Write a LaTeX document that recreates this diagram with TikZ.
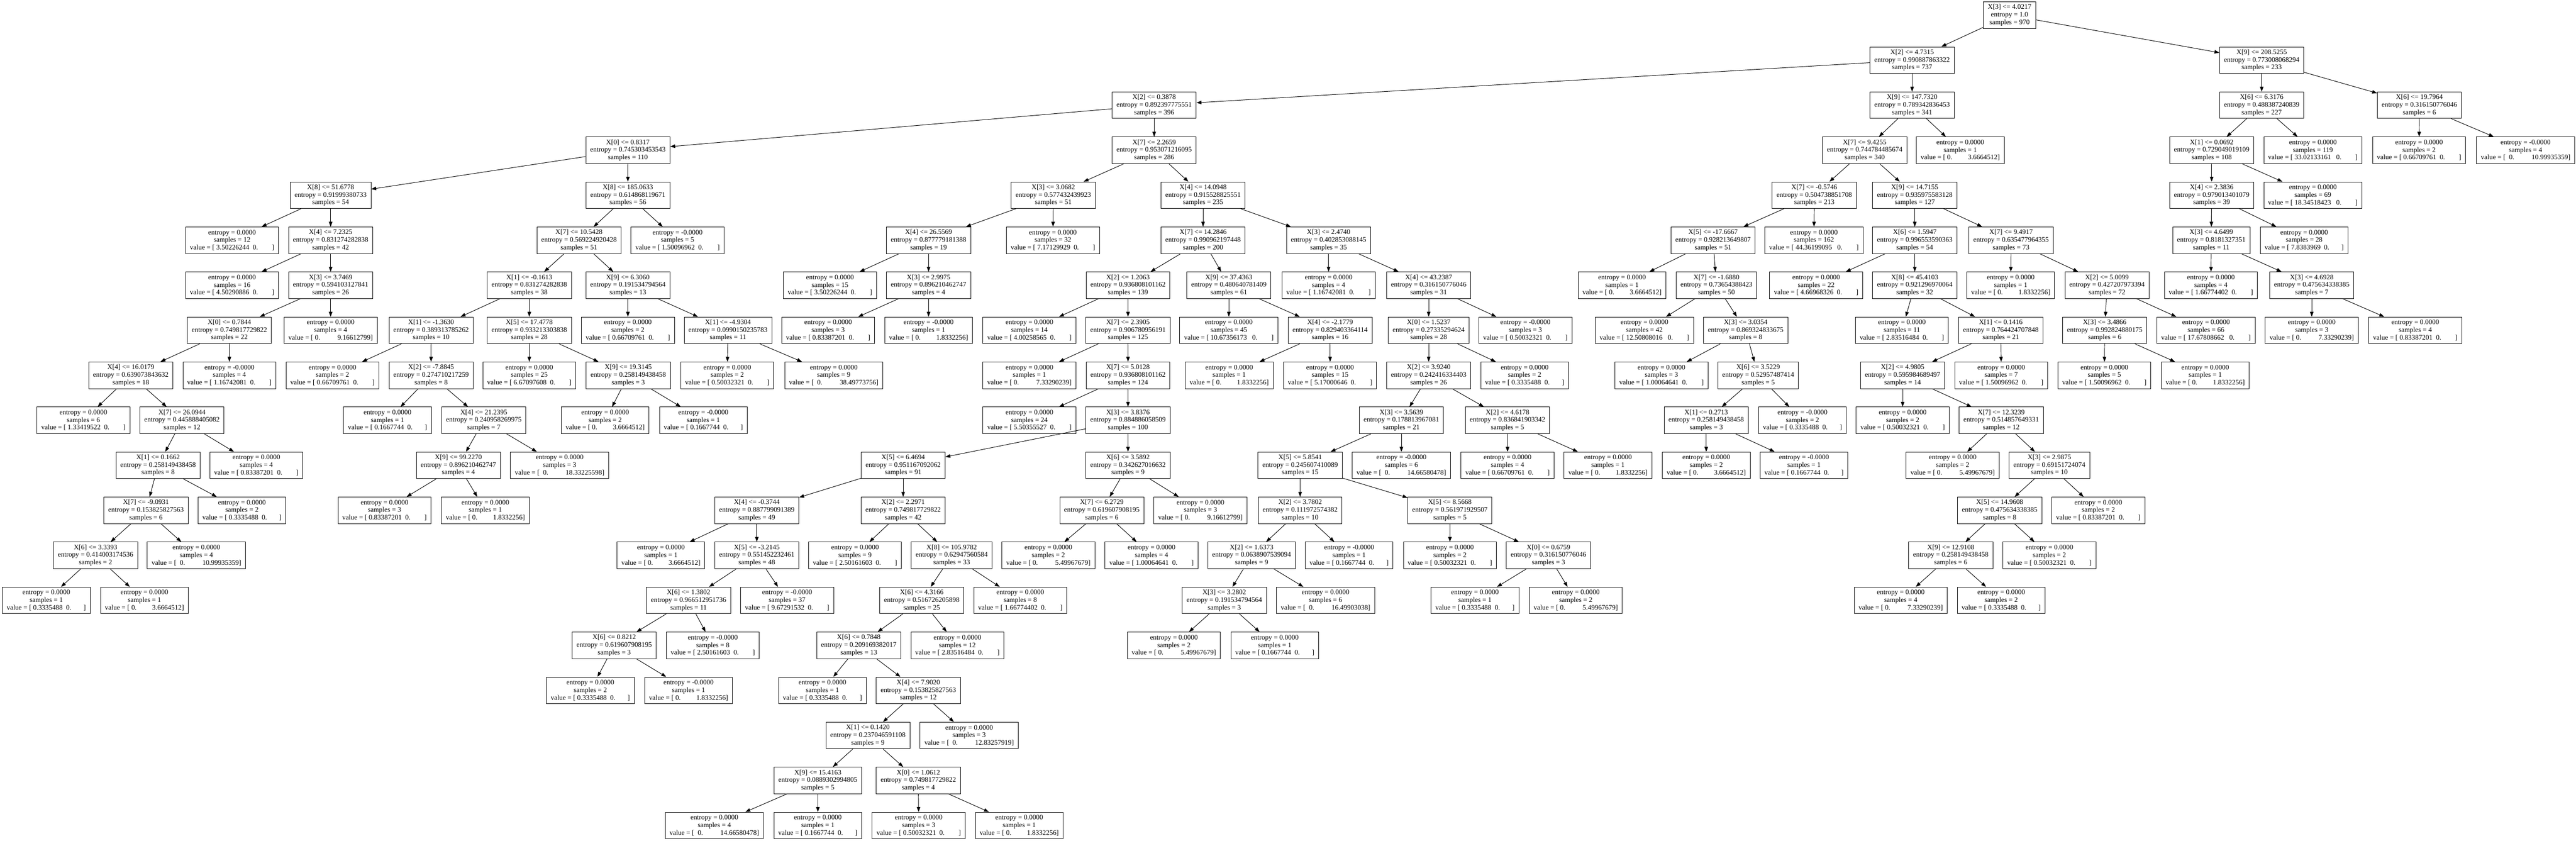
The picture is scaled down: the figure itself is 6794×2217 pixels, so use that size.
\documentclass[tikz,border=0pt]{standalone}
\usepackage{fontspec}
\setmainfont{Liberation Serif}
\usetikzlibrary{arrows.meta}
\newcommand\gp[1]{\hspace*{#1\fontdimen2\font}}
\newcommand\Sn[4]{X[#1] <= #2\\entropy = #3\\samples = #4}
\newcommand\Lf[3]{entropy = #1\\samples = #2\\value = [#3]}
\newcommand\Nd[4]{\node[tbox] (#1) at (#2,{40+118.7*(#3-1)}) {#4};}
\tikzset{
  tbox/.style={draw=black, line width=1.3pt, rectangle, align=center,
    inner xsep=11.5pt, inner ysep=0pt, minimum height=70pt,
    font=\fontsize{18.3pt}{20pt}\selectfont},
  edge/.style={draw=black, line width=1.3pt, -{Triangle[length=13pt,width=9.3pt]}}
}
\begin{document}
\begin{tikzpicture}[x=1pt,y=-1pt]
\fill[white] (0,0) rectangle (6794,2217);
\useasboundingbox (0,0) rectangle (6794,2217);
% L1-L4
\Nd{a0}{5300}{1}{\Sn{3}{4.0217}{1.0}{970}}
\Nd{a1}{5043}{2}{\Sn{2}{4.7315}{0.990887863322}{737}}
\Nd{a2}{5965}{2}{\Sn{9}{208.5255}{0.773008068294}{233}}
\Nd{a3}{3044}{3}{\Sn{2}{0.3878}{0.892397775551}{396}}
\Nd{a4}{5043}{3}{\Sn{9}{147.7320}{0.789342836453}{341}}
\Nd{a5}{5965}{3}{\Sn{6}{6.3176}{0.488387240839}{227}}
\Nd{a6}{6381}{3}{\Sn{6}{19.7964}{0.316150776046}{6}}
\Nd{a7}{1656}{4}{\Sn{0}{0.8317}{0.745303453543}{110}}
\Nd{a8}{3044}{4}{\Sn{7}{2.2659}{0.953071216095}{286}}
\Nd{a9}{4918}{4}{\Sn{7}{9.4255}{0.744784485674}{340}}
\Nd{a10}{5170}{4}{\Lf{0.0000}{1}{\gp{1}0.\gp{9}3.6664512}}
\Nd{a11}{5833}{4}{\Sn{1}{0.0692}{0.729049019109}{108}}
\Nd{a12}{6100}{4}{\Lf{0.0000}{119}{\gp{1}33.02133161\gp{3}0.\gp{8}}}
\Nd{a13}{6380}{4}{\Lf{0.0000}{2}{\gp{1}0.66709761\gp{2}0.\gp{8}}}
\Nd{a14}{6661}{4}{\Lf{-0.0000}{4}{\gp{2}0.\gp{10}10.99935359}}
% L5
\Nd{a15}{872}{5}{\Sn{8}{51.6778}{0.91999380733}{54}}
\Nd{a16}{1656}{5}{\Sn{8}{185.0633}{0.614868119671}{56}}
\Nd{a17}{2778}{5}{\Sn{3}{3.0682}{0.577432439923}{51}}
\Nd{a18}{3173}{5}{\Sn{4}{14.0948}{0.915528825551}{235}}
\Nd{a19}{4785}{5}{\Sn{7}{-0.5746}{0.504738851708}{213}}
\Nd{a20}{5050}{5}{\Sn{9}{14.7155}{0.935975583128}{127}}
\Nd{a21}{5833}{5}{\Sn{4}{2.3836}{0.979013401079}{39}}
\Nd{a22}{6100}{5}{\Lf{0.0000}{69}{\gp{1}18.34518423\gp{3}0.\gp{8}}}
% L6
\Nd{a23}{612}{6}{\Lf{0.0000}{12}{\gp{1}3.50226244\gp{2}0.\gp{8}}}
\Nd{a24}{872}{6}{\Sn{4}{7.2325}{0.831274282838}{42}}
\Nd{a25}{1527}{6}{\Sn{7}{10.5428}{0.569224920428}{51}}
\Nd{a26}{1787}{6}{\Lf{-0.0000}{5}{\gp{1}1.50096962\gp{2}0.\gp{8}}}
\Nd{a27}{2449}{6}{\Sn{4}{26.5569}{0.877779181388}{19}}
\Nd{a28}{2777}{6}{\Lf{0.0000}{32}{\gp{1}7.17129929\gp{2}0.\gp{8}}}
\Nd{a29}{3173}{6}{\Sn{7}{14.2846}{0.990962197448}{200}}
\Nd{a30}{3504}{6}{\Sn{3}{2.4740}{0.402853088145}{35}}
\Nd{a31}{4518}{6}{\Sn{5}{-17.6667}{0.928213649807}{51}}
\Nd{a32}{4784}{6}{\Lf{0.0000}{162}{\gp{1}44.36199095\gp{3}0.\gp{8}}}
\Nd{a33}{5050}{6}{\Sn{6}{1.5947}{0.996553590363}{54}}
\Nd{a34}{5304}{6}{\Sn{7}{9.4917}{0.635477964355}{73}}
\Nd{a35}{5832}{6}{\Sn{3}{4.6499}{0.8181327351}{11}}
\Nd{a36}{6077}{6}{\Lf{0.0000}{28}{\gp{1}7.8383969\gp{2}0.\gp{7}}}
% L7
\Nd{a37}{612}{7}{\Lf{0.0000}{16}{\gp{1}4.50290886\gp{2}0.\gp{8}}}
\Nd{a38}{872}{7}{\Sn{3}{3.7469}{0.594103127841}{26}}
\Nd{a39}{1396}{7}{\Sn{1}{-0.1613}{0.831274282838}{38}}
\Nd{a40}{1656}{7}{\Sn{9}{6.3060}{0.191534794564}{13}}
\Nd{a41}{2189}{7}{\Lf{0.0000}{15}{\gp{1}3.50226244\gp{2}0.\gp{8}}}
\Nd{a42}{2449}{7}{\Sn{3}{2.9975}{0.896210462747}{4}}
\Nd{a43}{2975}{7}{\Sn{2}{1.2063}{0.936808101162}{139}}
\Nd{a44}{3241}{7}{\Sn{9}{37.4363}{0.480640781409}{61}}
\Nd{a45}{3504}{7}{\Lf{0.0000}{4}{\gp{1}1.16742081\gp{2}0.\gp{8}}}
\Nd{a46}{3768}{7}{\Sn{4}{43.2387}{0.316150776046}{31}}
\Nd{a47}{4278}{7}{\Lf{0.0000}{1}{\gp{1}0.\gp{9}3.6664512}}
\Nd{a48}{4527}{7}{\Sn{7}{-1.6880}{0.73654388423}{50}}
\Nd{a49}{4790}{7}{\Lf{0.0000}{22}{\gp{1}4.66968326\gp{2}0.\gp{8}}}
\Nd{a50}{5050}{7}{\Sn{8}{45.4103}{0.921296970064}{32}}
\Nd{a51}{5303}{7}{\Lf{0.0000}{1}{\gp{1}0.\gp{9}1.8332256}}
\Nd{a52}{5557}{7}{\Sn{2}{5.0099}{0.427207973394}{72}}
\Nd{a53}{5831}{7}{\Lf{0.0000}{4}{\gp{1}1.66774402\gp{2}0.\gp{8}}}
\Nd{a54}{6097}{7}{\Sn{3}{4.6928}{0.475634338385}{7}}
% L8
\Nd{a55}{605}{8}{\Sn{0}{0.7844}{0.749817729822}{22}}
\Nd{a56}{872}{8}{\Lf{0.0000}{4}{\gp{1}0.\gp{10}9.16612799}}
\Nd{a57}{1137}{8}{\Sn{1}{-1.3630}{0.389313785262}{10}}
\Nd{a58}{1396}{8}{\Sn{5}{17.4778}{0.933213303838}{28}}
\Nd{a59}{1656}{8}{\Lf{0.0000}{2}{\gp{1}0.66709761\gp{2}0.\gp{8}}}
\Nd{a60}{1920}{8}{\Sn{1}{-4.9304}{0.0990150235783}{11}}
\Nd{a61}{2184}{8}{\Lf{0.0000}{3}{\gp{1}0.83387201\gp{2}0.\gp{8}}}
\Nd{a62}{2449}{8}{\Lf{-0.0000}{1}{\gp{1}0.\gp{9}1.8332256}}
\Nd{a63}{2715}{8}{\Lf{0.0000}{14}{\gp{1}4.00258565\gp{2}0.\gp{8}}}
\Nd{a64}{2975}{8}{\Sn{7}{2.3905}{0.906780956191}{125}}
\Nd{a65}{3241}{8}{\Lf{0.0000}{45}{\gp{1}10.67356173\gp{3}0.\gp{8}}}
\Nd{a66}{3508}{8}{\Sn{4}{-2.1779}{0.829403364114}{16}}
\Nd{a67}{3768}{8}{\Sn{0}{1.5237}{0.27335294624}{28}}
\Nd{a68}{4023}{8}{\Lf{-0.0000}{3}{\gp{1}0.50032321\gp{2}0.\gp{8}}}
\Nd{a69}{4337}{8}{\Lf{0.0000}{42}{\gp{1}12.50808016\gp{3}0.\gp{8}}}
\Nd{a70}{4604}{8}{\Sn{3}{3.0354}{0.869324833675}{8}}
\Nd{a71}{5016}{8}{\Lf{0.0000}{11}{\gp{1}2.83516484\gp{2}0.\gp{8}}}
\Nd{a72}{5277}{8}{\Sn{1}{0.1416}{0.764424707848}{21}}
\Nd{a73}{5551}{8}{\Sn{3}{3.4866}{0.992824880175}{6}}
\Nd{a74}{5818}{8}{\Lf{0.0000}{66}{\gp{1}17.67808662\gp{3}0.\gp{8}}}
\Nd{a75}{6097}{8}{\Lf{0.0000}{3}{\gp{1}0.\gp{10}7.33290239}}
\Nd{a76}{6370}{8}{\Lf{0.0000}{4}{\gp{1}0.83387201\gp{2}0.\gp{8}}}
% L9
\Nd{a77}{345}{9}{\Sn{4}{16.0179}{0.639073843632}{18}}
\Nd{a78}{605}{9}{\Lf{-0.0000}{4}{\gp{1}1.16742081\gp{2}0.\gp{8}}}
\Nd{a79}{877}{9}{\Lf{0.0000}{2}{\gp{1}0.66709761\gp{2}0.\gp{8}}}
\Nd{a80}{1137}{9}{\Sn{2}{-7.8845}{0.274710217259}{8}}
\Nd{a81}{1396}{9}{\Lf{0.0000}{25}{\gp{1}6.67097608\gp{2}0.\gp{8}}}
\Nd{a82}{1657}{9}{\Sn{9}{19.3145}{0.258149438458}{3}}
\Nd{a83}{1918}{9}{\Lf{0.0000}{2}{\gp{1}0.50032321\gp{2}0.\gp{8}}}
\Nd{a84}{2199}{9}{\Lf{0.0000}{9}{\gp{2}0.\gp{10}38.49773756}}
\Nd{a85}{2715}{9}{\Lf{0.0000}{1}{\gp{1}0.\gp{10}7.33290239}}
\Nd{a86}{2975}{9}{\Sn{7}{5.0128}{0.936808101162}{124}}
\Nd{a87}{3242}{9}{\Lf{0.0000}{1}{\gp{1}0.\gp{9}1.8332256}}
\Nd{a88}{3508}{9}{\Lf{0.0000}{15}{\gp{1}5.17000646\gp{2}0.\gp{8}}}
\Nd{a89}{3768}{9}{\Sn{2}{3.9240}{0.242416334403}{26}}
\Nd{a90}{4021}{9}{\Lf{0.0000}{2}{\gp{1}0.3335488\gp{2}0.\gp{7}}}
\Nd{a91}{4382}{9}{\Lf{0.0000}{3}{\gp{1}1.00064641\gp{2}0.\gp{8}}}
\Nd{a92}{4637}{9}{\Sn{6}{3.5229}{0.52957487414}{5}}
\Nd{a93}{5018}{9}{\Sn{2}{4.9805}{0.595984689497}{14}}
\Nd{a94}{5278}{9}{\Lf{0.0000}{7}{\gp{1}1.50096962\gp{2}0.\gp{8}}}
\Nd{a95}{5550}{9}{\Lf{0.0000}{5}{\gp{1}1.50096962\gp{2}0.\gp{8}}}
\Nd{a96}{5816}{9}{\Lf{0.0000}{1}{\gp{1}0.\gp{9}1.8332256}}
% L10
\Nd{a97}{220}{10}{\Lf{0.0000}{6}{\gp{1}1.33419522\gp{2}0.\gp{8}}}
\Nd{a98}{480}{10}{\Sn{7}{26.0944}{0.445888405082}{12}}
\Nd{a99}{1022}{10}{\Lf{0.0000}{1}{\gp{1}0.1667744\gp{2}0.\gp{7}}}
\Nd{a100}{1276}{10}{\Sn{4}{21.2395}{0.240958269975}{7}}
\Nd{a101}{1596}{10}{\Lf{0.0000}{2}{\gp{1}0.\gp{9}3.6664512}}
\Nd{a102}{1855}{10}{\Lf{-0.0000}{1}{\gp{1}0.1667744\gp{2}0.\gp{7}}}
\Nd{a103}{2715}{10}{\Lf{0.0000}{24}{\gp{1}5.50355527\gp{2}0.\gp{8}}}
\Nd{a104}{2975}{10}{\Sn{3}{3.8376}{0.884886058509}{100}}
\Nd{a105}{3696}{10}{\Sn{3}{3.5639}{0.178813967081}{21}}
\Nd{a106}{3976}{10}{\Sn{2}{4.6178}{0.836841903342}{5}}
\Nd{a107}{4500}{10}{\Sn{1}{0.2713}{0.258149438458}{3}}
\Nd{a108}{4754}{10}{\Lf{-0.0000}{2}{\gp{1}0.3335488\gp{2}0.\gp{7}}}
\Nd{a109}{5018}{10}{\Lf{0.0000}{2}{\gp{1}0.50032321\gp{2}0.\gp{8}}}
\Nd{a110}{5278}{10}{\Sn{7}{12.3239}{0.514857649331}{12}}
% L11
\Nd{a111}{417}{11}{\Sn{1}{0.1662}{0.258149438458}{8}}
\Nd{a112}{676}{11}{\Lf{0.0000}{4}{\gp{1}0.83387201\gp{2}0.\gp{8}}}
\Nd{a113}{1209}{11}{\Sn{9}{99.2270}{0.896210462747}{4}}
\Nd{a114}{1476}{11}{\Lf{0.0000}{3}{\gp{2}0.\gp{10}18.33225598}}
\Nd{a115}{2382}{11}{\Sn{5}{6.4694}{0.951167092062}{91}}
\Nd{a116}{2975}{11}{\Sn{6}{3.5892}{0.342627016632}{9}}
\Nd{a117}{3429}{11}{\Sn{5}{5.8541}{0.245607410089}{15}}
\Nd{a118}{3696}{11}{\Lf{-0.0000}{6}{\gp{2}0.\gp{10}14.66580478}}
\Nd{a119}{3976}{11}{\Lf{0.0000}{4}{\gp{1}0.66709761\gp{2}0.\gp{8}}}
\Nd{a120}{4241}{11}{\Lf{0.0000}{1}{\gp{1}0.\gp{9}1.8332256}}
\Nd{a121}{4500}{11}{\Lf{0.0000}{2}{\gp{1}0.\gp{9}3.6664512}}
\Nd{a122}{4758}{11}{\Lf{-0.0000}{1}{\gp{1}0.1667744\gp{2}0.\gp{7}}}
\Nd{a123}{5150}{11}{\Lf{0.0000}{2}{\gp{1}0.\gp{10}5.49967679}}
\Nd{a124}{5405}{11}{\Sn{3}{2.9875}{0.69151724074}{10}}
% L12
\Nd{a125}{385}{12}{\Sn{7}{-9.0931}{0.153825827563}{6}}
\Nd{a126}{638}{12}{\Lf{0.0000}{2}{\gp{1}0.3335488\gp{2}0.\gp{7}}}
\Nd{a127}{1014}{12}{\Lf{0.0000}{3}{\gp{1}0.83387201\gp{2}0.\gp{8}}}
\Nd{a128}{1280}{12}{\Lf{0.0000}{1}{\gp{1}0.\gp{9}1.8332256}}
\Nd{a129}{1996}{12}{\Sn{4}{-0.3744}{0.887799091389}{49}}
\Nd{a130}{2382}{12}{\Sn{2}{2.2971}{0.749817729822}{42}}
\Nd{a131}{2906}{12}{\Sn{7}{6.2729}{0.619607908195}{6}}
\Nd{a132}{3166}{12}{\Lf{0.0000}{3}{\gp{1}0.\gp{10}9.16612799}}
\Nd{a133}{3429}{12}{\Sn{2}{3.7802}{0.111972574382}{10}}
\Nd{a134}{3824}{12}{\Sn{5}{8.5668}{0.561971929507}{5}}
\Nd{a135}{5274}{12}{\Sn{5}{14.9608}{0.475634338385}{8}}
\Nd{a136}{5534}{12}{\Lf{0.0000}{2}{\gp{1}0.83387201\gp{2}0.\gp{8}}}
% L13
\Nd{a137}{252}{13}{\Sn{6}{3.3393}{0.414003174536}{2}}
\Nd{a138}{518}{13}{\Lf{0.0000}{4}{\gp{2}0.\gp{10}10.99935359}}
\Nd{a139}{1743}{13}{\Lf{0.0000}{1}{\gp{1}0.\gp{9}3.6664512}}
\Nd{a140}{1996}{13}{\Sn{5}{-3.2145}{0.551452232461}{48}}
\Nd{a141}{2255}{13}{\Lf{0.0000}{9}{\gp{1}2.50161603\gp{2}0.\gp{8}}}
\Nd{a142}{2510}{13}{\Sn{8}{105.9782}{0.62947560584}{33}}
\Nd{a143}{2765}{13}{\Lf{0.0000}{2}{\gp{1}0.\gp{10}5.49967679}}
\Nd{a144}{3037}{13}{\Lf{0.0000}{4}{\gp{1}1.00064641\gp{2}0.\gp{8}}}
\Nd{a145}{3301}{13}{\Sn{2}{1.6373}{0.0638907539094}{9}}
\Nd{a146}{3558}{13}{\Lf{-0.0000}{1}{\gp{1}0.1667744\gp{2}0.\gp{7}}}
\Nd{a147}{3824}{13}{\Lf{0.0000}{2}{\gp{1}0.50032321\gp{2}0.\gp{8}}}
\Nd{a148}{4084}{13}{\Sn{0}{0.6759}{0.316150776046}{3}}
\Nd{a149}{5145}{13}{\Sn{9}{12.9108}{0.258149438458}{6}}
\Nd{a150}{5405}{13}{\Lf{0.0000}{2}{\gp{1}0.50032321\gp{2}0.\gp{8}}}
% L14
\Nd{a151}{122}{14}{\Lf{0.0000}{1}{\gp{1}0.3335488\gp{2}0.\gp{7}}}
\Nd{a152}{381}{14}{\Lf{0.0000}{1}{\gp{1}0.\gp{9}3.6664512}}
\Nd{a153}{1816}{14}{\Sn{6}{1.3802}{0.966512951736}{11}}
\Nd{a154}{2076}{14}{\Lf{-0.0000}{37}{\gp{1}9.67291532\gp{2}0.\gp{8}}}
\Nd{a155}{2431}{14}{\Sn{6}{4.3166}{0.516726205898}{25}}
\Nd{a156}{2691}{14}{\Lf{0.0000}{8}{\gp{1}1.66774402\gp{2}0.\gp{8}}}
\Nd{a157}{3229}{14}{\Sn{3}{3.2802}{0.191534794564}{3}}
\Nd{a158}{3496}{14}{\Lf{0.0000}{6}{\gp{2}0.\gp{10}16.49903038}}
\Nd{a159}{3890}{14}{\Lf{0.0000}{1}{\gp{1}0.3335488\gp{2}0.\gp{7}}}
\Nd{a160}{4156}{14}{\Lf{0.0000}{2}{\gp{1}0.\gp{10}5.49967679}}
\Nd{a161}{5013}{14}{\Lf{0.0000}{4}{\gp{1}0.\gp{10}7.33290239}}
\Nd{a162}{5278}{14}{\Lf{0.0000}{2}{\gp{1}0.3335488\gp{2}0.\gp{7}}}
% L15
\Nd{a163}{1620}{15}{\Sn{6}{0.8212}{0.619607908195}{3}}
\Nd{a164}{1880}{15}{\Lf{-0.0000}{8}{\gp{1}2.50161603\gp{2}0.\gp{8}}}
\Nd{a165}{2265}{15}{\Sn{6}{0.7848}{0.209169382017}{13}}
\Nd{a166}{2525}{15}{\Lf{0.0000}{12}{\gp{1}2.83516484\gp{2}0.\gp{8}}}
\Nd{a167}{3096}{15}{\Lf{0.0000}{2}{\gp{1}0.\gp{10}5.49967679}}
\Nd{a168}{3362}{15}{\Lf{0.0000}{1}{\gp{1}0.1667744\gp{2}0.\gp{7}}}
% L16
\Nd{a169}{1557}{16}{\Lf{0.0000}{2}{\gp{1}0.3335488\gp{2}0.\gp{7}}}
\Nd{a170}{1816}{16}{\Lf{-0.0000}{1}{\gp{1}0.\gp{9}1.8332256}}
\Nd{a171}{2169}{16}{\Lf{0.0000}{1}{\gp{1}0.3335488\gp{2}0.\gp{7}}}
\Nd{a172}{2422}{16}{\Sn{4}{7.9020}{0.153825827563}{12}}
% L17
\Nd{a173}{2289}{17}{\Sn{1}{0.1420}{0.237046591108}{9}}
\Nd{a174}{2556}{17}{\Lf{0.0000}{3}{\gp{2}0.\gp{10}12.83257919}}
% L18
\Nd{a175}{2157}{18}{\Sn{9}{15.4163}{0.0889302994805}{5}}
\Nd{a176}{2422}{18}{\Sn{0}{1.0612}{0.749817729822}{4}}
% L19
\Nd{a177}{1884}{19}{\Lf{0.0000}{4}{\gp{2}0.\gp{10}14.66580478}}
\Nd{a178}{2157}{19}{\Lf{0.0000}{1}{\gp{1}0.1667744\gp{2}0.\gp{7}}}
\Nd{a179}{2423}{19}{\Lf{0.0000}{3}{\gp{1}0.50032321\gp{2}0.\gp{8}}}
\Nd{a180}{2688}{19}{\Lf{0.0000}{1}{\gp{1}0.\gp{9}1.8332256}}
% edges
\foreach \p/\c in {a0/a1,a0/a2,a1/a3,a1/a4,a2/a5,a2/a6,a3/a7,a3/a8,a4/a9,a4/a10,a5/a11,a5/a12,a6/a13,a6/a14,
a7/a15,a7/a16,a8/a17,a8/a18,a9/a19,a9/a20,a11/a21,a11/a22,
a15/a23,a15/a24,a16/a25,a16/a26,a17/a27,a17/a28,a18/a29,a18/a30,a19/a31,a19/a32,a20/a33,a20/a34,a21/a35,a21/a36,
a24/a37,a24/a38,a25/a39,a25/a40,a27/a41,a27/a42,a29/a43,a29/a44,a30/a45,a30/a46,a31/a47,a31/a48,a33/a49,a33/a50,a34/a51,a34/a52,a35/a53,a35/a54,
a38/a55,a38/a56,a39/a57,a39/a58,a40/a59,a40/a60,a42/a61,a42/a62,a43/a63,a43/a64,a44/a65,a44/a66,a46/a67,a46/a68,a48/a69,a48/a70,a50/a71,a50/a72,a52/a73,a52/a74,a54/a75,a54/a76,
a55/a77,a55/a78,a57/a79,a57/a80,a58/a81,a58/a82,a60/a83,a60/a84,a64/a85,a64/a86,a66/a87,a66/a88,a67/a89,a67/a90,a70/a91,a70/a92,a72/a93,a72/a94,a73/a95,a73/a96,
a77/a97,a77/a98,a80/a99,a80/a100,a82/a101,a82/a102,a86/a103,a86/a104,a89/a105,a89/a106,a92/a107,a92/a108,a93/a109,a93/a110,
a98/a111,a98/a112,a100/a113,a100/a114,a104/a115,a104/a116,a105/a117,a105/a118,a106/a119,a106/a120,a107/a121,a107/a122,a110/a123,a110/a124,
a111/a125,a111/a126,a113/a127,a113/a128,a115/a129,a115/a130,a116/a131,a116/a132,a117/a133,a117/a134,a124/a135,a124/a136,
a125/a137,a125/a138,a129/a139,a129/a140,a130/a141,a130/a142,a131/a143,a131/a144,a133/a145,a133/a146,a134/a147,a134/a148,a135/a149,a135/a150,
a137/a151,a137/a152,a140/a153,a140/a154,a142/a155,a142/a156,a145/a157,a145/a158,a148/a159,a148/a160,a149/a161,a149/a162,
a153/a163,a153/a164,a155/a165,a155/a166,a157/a167,a157/a168,
a163/a169,a163/a170,a165/a171,a165/a172,
a172/a173,a172/a174,
a173/a175,a173/a176,
a175/a177,a175/a178,a176/a179,a176/a180}
  \draw[edge] (\p) -- (\c);
\end{tikzpicture}
\end{document}
